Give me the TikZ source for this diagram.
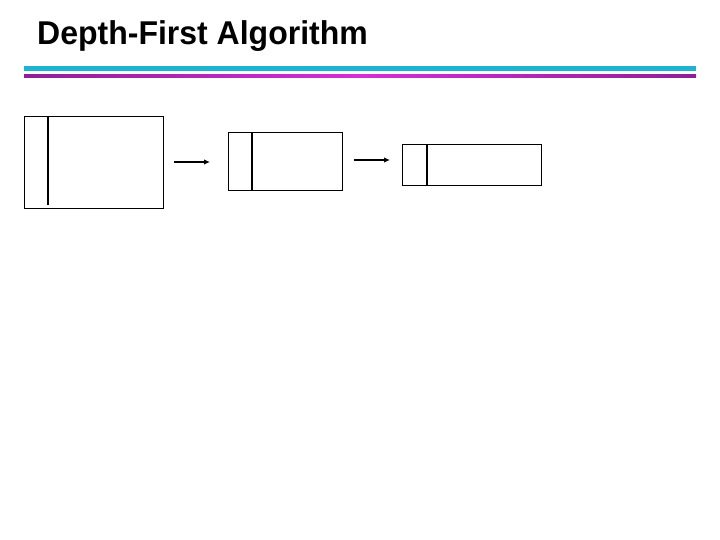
\documentclass[tikz,border=0pt]{standalone}
\usepackage{fontspec}
\setmainfont{Liberation Sans}
\usetikzlibrary{arrows.meta}
\definecolor{barcyan}{HTML}{1DB4D2}
\definecolor{barmagA}{HTML}{8E1F96}
\definecolor{barmagB}{HTML}{D42FD4}
\begin{document}
\begin{tikzpicture}[x=1pt,y=-1pt,
  cell/.style={draw=black,line width=1.1pt},
  divider/.style={draw=black,line width=1.1pt},
  link/.style={draw=black,line width=1.5pt,-{Latex[length=6pt,width=5.5pt]}}]
\useasboundingbox (0,0) rectangle (720,540);
\node[anchor=base west,inner sep=0pt,font=\bfseries\fontsize{32}{35}\selectfont,yscale=1.03] (title) at (37,44.5) {Depth-First Algorithm};
\fill[barcyan] (24,66) rectangle (696,71.5);
\shade[left color=barmagA,right color=barmagA,middle color=barmagB] (24,75) rectangle (696,77.8);
% box 1
\node[cell,minimum width=139pt,minimum height=92pt,inner sep=0pt,anchor=north west] (b1) at (24,116) {};
\draw[divider] (48,116) -- (48,205);
% box 2
\node[cell,minimum width=114pt,minimum height=58pt,inner sep=0pt,anchor=north west] (b2) at (228,132) {};
\draw[divider] (252,132) -- (252,191);
% box 3
\node[cell,minimum width=139pt,minimum height=41pt,inner sep=0pt,anchor=north west] (b3) at (402,144) {};
\draw[divider] (427,144) -- (427,185);
% arrows
\coordinate (a1s) at (174,162); \coordinate (a1e) at (210,162);
\coordinate (a2s) at (354,160); \coordinate (a2e) at (390,160);
\draw[link] (a1s) -- (a1e);
\draw[link] (a2s) -- (a2e);
\end{tikzpicture}
\end{document}
